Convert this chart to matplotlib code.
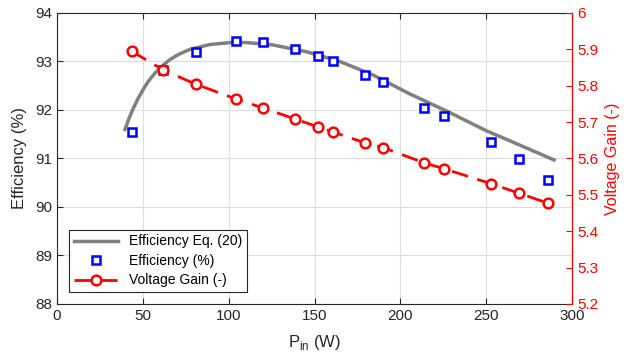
import matplotlib
matplotlib.use("Agg")
import matplotlib.pyplot as plt

plt.rcParams['font.family'] = ['Liberation Sans', 'DejaVu Sans']

# measured efficiency and voltage gain
p_in = [43.5, 62, 81, 104, 120, 138.4, 152, 160.7, 179.4, 189.9, 213.9, 225.4, 252.6, 268.9, 286]
eff = [91.55, 92.82, 93.2, 93.43, 93.41, 93.26, 93.11, 93.0, 92.72, 92.57, 92.04, 91.88, 91.35, 90.98, 90.56]
gain = [5.895, 5.843, 5.804, 5.764, 5.739, 5.709, 5.687, 5.673, 5.643, 5.630, 5.588, 5.572, 5.531, 5.505, 5.477]

# Eq. (20) curve
p_eq = [39.6, 42, 44.4, 47, 50.3, 53, 56.1, 60, 65.8, 71, 77.5, 89.1, 100.8, 110.5, 126,
        145.4, 164.8, 184.2, 205.6, 228, 250.2, 270, 289.5]
eff_eq = [91.60, 91.83, 92.03, 92.22, 92.43, 92.58, 92.72, 92.87, 93.04, 93.15, 93.25, 93.35,
          93.39, 93.39, 93.34, 93.20, 93.00, 92.72, 92.33, 91.96, 91.57, 91.27, 90.97]

fig = plt.figure(figsize=(6.27, 3.6), dpi=100)
ax = fig.add_axes([0.0909, 0.1556, 0.8214, 0.8083])
ax2 = ax.twinx()

l1, = ax.plot(p_eq, eff_eq, color='#808080', lw=2.5, label='Efficiency Eq. (20)')
l2, = ax.plot(p_in, eff, 's', color='blue', ms=6, mew=1.8, mfc='white', label='Efficiency (%)')
l3, = ax2.plot(p_in, gain, '--o', color='red', lw=2, ms=7, mew=1.8, mfc='white',
               dashes=(6, 3.5), label='Voltage Gain (-)')

ax.set_xlim(0, 300)
ax.set_ylim(88, 94)
ax2.set_ylim(5.2, 6.0)
ax.set_xticks(range(0, 301, 50))
ax.set_yticks(range(88, 95))
ax2.set_yticks([5.2, 5.3, 5.4, 5.5, 5.6, 5.7, 5.8, 5.9, 6.0])
ax2.set_yticklabels(['5.2', '5.3', '5.4', '5.5', '5.6', '5.7', '5.8', '5.9', '6'])

ax.grid(True, color='#dddddd', lw=0.8)
ax.set_axisbelow(True)

ax.tick_params(direction='in', labelsize=11, colors='#262626', top=True, length=4)
ax2.tick_params(direction='in', labelsize=11, colors='red', length=4)
for s in ['left', 'bottom', 'top']:
    ax.spines[s].set_color('#262626')
ax2.spines['right'].set_color('red')
ax2.spines['left'].set_visible(False)
ax2.spines['top'].set_visible(False)
ax2.spines['bottom'].set_visible(False)

ax.set_xlabel('P$_\\mathregular{in}$ (W)', fontsize=12, color='#262626', labelpad=7)
ax.set_ylabel('Efficiency (%)', fontsize=12, color='#262626', labelpad=6)
ax2.set_ylabel('Voltage Gain (-)', fontsize=11.5, color='red', labelpad=5)

leg = ax2.legend([l1, l2, l3], [l.get_label() for l in (l1, l2, l3)],
                 loc='lower left', bbox_to_anchor=(0.023, 0.04), fontsize=10,
                 fancybox=False, edgecolor='#262626', framealpha=1,
                 borderaxespad=0, handlelength=3.2, borderpad=0.35, labelspacing=0.4)
leg.get_frame().set_linewidth(0.8)

fig.savefig('out.png', dpi=100)
